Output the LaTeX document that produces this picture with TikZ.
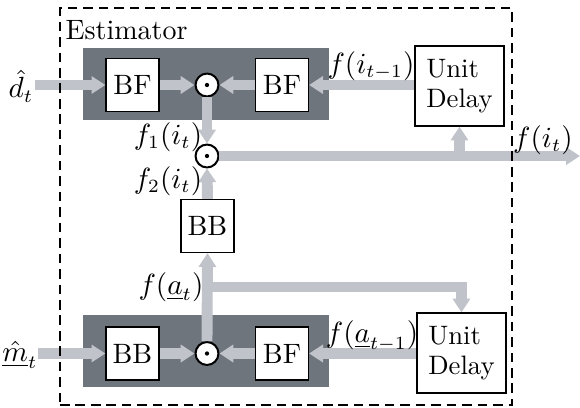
\documentclass[tikz,border=0pt]{standalone}
\usetikzlibrary{arrows.meta}
\definecolor{sigcol}{RGB}{192,196,202}
\definecolor{panelcol}{RGB}{111,117,124}
\begin{document}
\begin{tikzpicture}[x=0.375pt,y=-0.375pt,
  every node/.style={font=\fontsize{10.5}{12.6}\selectfont},
  blk/.style={draw, line width=0.45pt, fill=white, minimum width=19.9pt, minimum height=19.9pt, inner sep=0pt},
  udel/.style={draw, line width=0.45pt, fill=white, minimum width=33.4pt, minimum height=30pt, inner sep=0pt, align=left, font=\fontsize{10}{11.5}\selectfont},
  panel/.style={fill=panelcol, minimum width=92.25pt, minimum height=27pt, inner sep=0pt},
  mult/.style={circle, draw, line width=0.75pt, fill=white, minimum size=8.6pt, inner sep=0pt},
  sig/.style={draw=sigcol, line width=4.1pt, -{Triangle[width=6.4pt,length=5.2pt]}},
  lbl/.style={inner sep=0pt}
]
\useasboundingbox (0,0) rectangle (580,408);
% panels
\node[panel] (p1) at (206,84) {};
\node[panel] (p2) at (206,351) {};
% blocks
\node[blk] (bf1) at (132.5,85) {BF};
\node[mult] (c1) at (207,85) {};
\node[blk] (bf2) at (282,85) {BF};
\node[udel] (ud1) at (459.5,86) {Unit\\Delay};
\node[mult] (c2) at (207,156) {};
\node[blk] (bb) at (207.5,226) {BB};
\node[blk] (bb2) at (132.5,353.5) {BB};
\node[mult] (c3) at (207,353.5) {};
\node[blk] (bf3) at (282,353.5) {BF};
\node[udel] (ud2) at (461.5,353) {Unit\\Delay};
\foreach \c in {c1,c2,c3} \fill (\c) circle (0.8pt);
% coordinates
\coordinate (din) at (35,85);
\coordinate (min) at (38,353.5);
\coordinate (out) at (580,156);
\coordinate (b1) at (ud1.south |- c2);
\coordinate (b2) at (207,287);
% signals
\draw[sig] (din) -- (bf1.west);
\draw[sig] (bf1.east) -- (c1.west);
\draw[sig] (bf2.west) -- (c1.east);
\draw[sig] (ud1.west |- bf2.east) -- (bf2.east);
\draw[sig] (c1.south) -- (c2.north);
\draw[sig] (c2.east) -- (out);
\draw[sig] (b1) -- (ud1.south);
\draw[sig] (bb.north) -- (c2.south);
\draw[sig] (c3.north) -- (bb.south);
\draw[sig] (b2) -| (ud2.north);
\draw[sig] (min) -- (bb2.west);
\draw[sig] (bb2.east) -- (c3.west);
\draw[sig] (bf3.west) -- (c3.east);
\draw[sig] (ud2.west |- bf3.east) -- (bf3.east);
% labels
\node[lbl] (ldt) at (21,86) {$\hat{d}_t$};
\node[lbl] (lmt) at (20,355) {$\underline{\hat{m}}_t$};
\node[lbl] (lfi1) at (371,66) {$f(i_{t-1})$};
\node[lbl] (lfi) at (543,140) {$f(i_t)$};
\node[lbl] (lf1) at (168,137) {$f_1(i_t)$};
\node[lbl] (lf2) at (168,181) {$f_2(i_t)$};
\node[lbl] (lfa) at (171,287) {$f(\underline{a}_t)$};
\node[lbl] (lfa1) at (372,336) {$f(\underline{a}_{t-1})$};
% estimator box
\node[draw, dash pattern=on 3.6pt off 2.2pt, line width=0.6pt, minimum width=169.5pt, minimum height=148.9pt, inner sep=0pt] (est) at (286,206.5) {};
\node[lbl, anchor=base west] (elab) at (65,39) {Estimator};
\end{tikzpicture}
\end{document}
